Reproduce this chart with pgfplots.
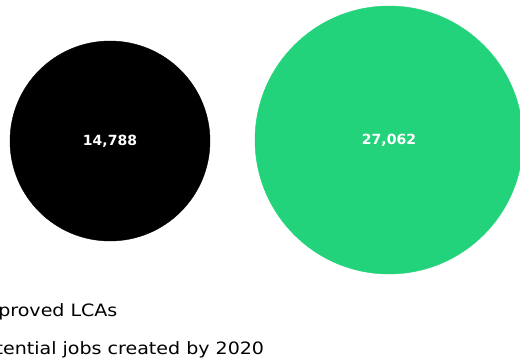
\documentclass[border=0pt]{standalone}
\usepackage{pgfplots}
\pgfplotsset{compat=1.18}
\usepackage{fontspec}
\setmainfont{DejaVu Sans}
\newfontfamily\legfont[FakeStretch=1.12]{DejaVu Sans}
\definecolor{lcagreen}{RGB}{35,211,123}
\begin{document}
\begin{tikzpicture}
\useasboundingbox (0,0) rectangle (520bp,360bp);
\clip (0,0) rectangle (520bp,360bp);
\begin{axis}[
  at={(0,0)}, anchor=south west,
  width=520bp, height=360bp, scale only axis,
  xmin=0, xmax=520, ymin=0, ymax=360, y dir=reverse,
  hide axis, clip=false,
  nodes near coords, point meta=explicit symbolic,
  every node near coord/.style={anchor=center, text=white, font=\bfseries\fontsize{14bp}{16bp}\selectfont},
]
\addplot[black, only marks, mark=*, mark size=100bp, mark options={draw=black, fill=black}]
  coordinates {(110,141) [14,788]};
\addplot[lcagreen, only marks, mark=*, mark size=134bp, mark options={draw=lcagreen, fill=lcagreen}]
  coordinates {(389,140) [27,062]};
\node[anchor=base west, font=\legfont\fontsize{17bp}{20bp}\selectfont, inner sep=0pt] at (axis cs:-27,316) {Approved LCAs};
\node[anchor=base west, font=\legfont\fontsize{17bp}{20bp}\selectfont, inner sep=0pt] at (axis cs:-27,354) {Potential jobs created by 2020};
\end{axis}
\end{tikzpicture}
\end{document}
